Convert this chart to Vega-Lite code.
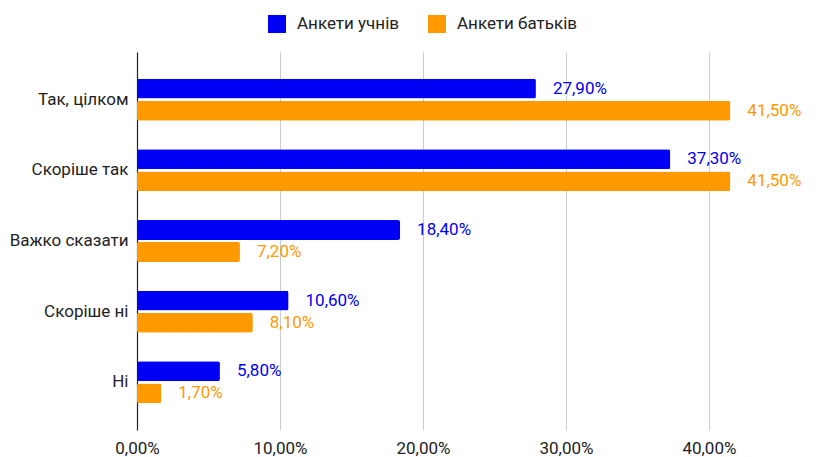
{
  "$schema": "https://vega.github.io/schema/vega-lite/v6.json",
  "autosize": "none",
  "width": 672,
  "height": 378,
  "padding": {"left": 137, "top": 52, "right": 31, "bottom": 27},
  "background": "white",
  "config": {
    "locale": {"number": {"decimal": ",", "thousands": " ", "grouping": [3], "currency": ["", " ₴"]}},
    "font": "Roboto",
    "view": {"stroke": null}
  },
  "data": {"values": [
    {"cat": "Так, цілком", "series": "Анкети учнів", "value": 0.279},
    {"cat": "Так, цілком", "series": "Анкети батьків", "value": 0.415},
    {"cat": "Скоріше так", "series": "Анкети учнів", "value": 0.373},
    {"cat": "Скоріше так", "series": "Анкети батьків", "value": 0.415},
    {"cat": "Важко сказати", "series": "Анкети учнів", "value": 0.184},
    {"cat": "Важко сказати", "series": "Анкети батьків", "value": 0.072},
    {"cat": "Скоріше ні", "series": "Анкети учнів", "value": 0.106},
    {"cat": "Скоріше ні", "series": "Анкети батьків", "value": 0.081},
    {"cat": "Ні", "series": "Анкети учнів", "value": 0.058},
    {"cat": "Ні", "series": "Анкети батьків", "value": 0.017}
  ]},
  "encoding": {
    "y": {"field": "cat", "type": "nominal", "sort": null,
      "scale": {"paddingInner": 0.406, "paddingOuter": 0.378},
      "axis": {"title": null, "ticks": false, "labelPadding": 9, "labelFontSize": 17, "labelColor": "#222222", "domainColor": "#222222", "domainWidth": 1.2, "grid": false}},
    "yOffset": {"field": "series", "type": "nominal", "sort": ["Анкети учнів", "Анкети батьків"], "scale": {"paddingInner": 0.1}},
    "x": {"field": "value", "type": "quantitative",
      "scale": {"domain": [0, 0.47], "nice": false},
      "axis": {"title": null, "format": ".2%", "values": [0, 0.1, 0.2, 0.3, 0.4], "domain": false, "ticks": false, "labelPadding": 10, "labelFontSize": 17, "labelColor": "#222222", "gridColor": "#cccccc", "labelFlush": false}},
    "color": {"field": "series", "type": "nominal", "sort": ["Анкети учнів", "Анкети батьків"],
      "scale": {"domain": ["Анкети учнів", "Анкети батьків"], "range": ["#0000f5", "#ff9900"]},
      "legend": {"title": null, "orient": "none", "legendX": 131, "legendY": -37, "direction": "horizontal", "symbolType": "square", "symbolSize": 324, "symbolStrokeWidth": 0, "labelFontSize": 17, "labelColor": "#222222", "labelOffset": 11, "columnPadding": 28}}
  },
  "layer": [
    {"mark": {"type": "bar", "cornerRadius": 2}},
    {"mark": {"type": "text", "align": "left", "baseline": "middle", "dx": 17, "fontSize": 17},
      "encoding": {"text": {"field": "value", "type": "quantitative", "format": ".2%"}}}
  ]
}
